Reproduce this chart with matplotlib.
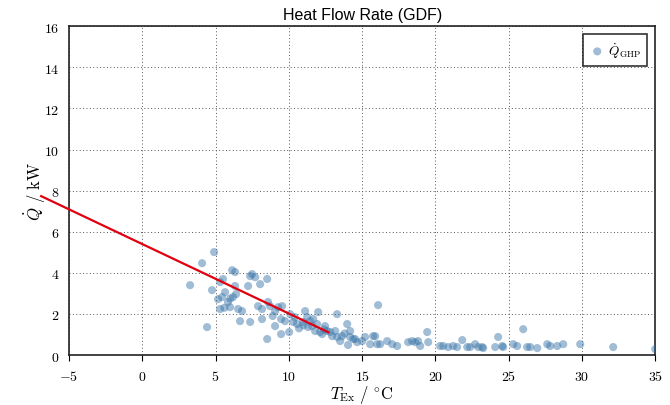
import matplotlib
matplotlib.use('Agg')
import matplotlib.pyplot as plt
import numpy as np

plt.rcParams['mathtext.fontset'] = 'cm'

# measured points: exhaust temperature / heat flow
t_ex = [3.26, 4.08, 4.90, 4.42, 4.76, 5.31, 5.51, 6.13, 6.33, 5.17, 5.44, 5.65, 5.85, 5.99,
        5.31, 6.33, 6.40, 6.19, 6.54, 6.81, 6.67, 7.36, 7.49, 7.70, 7.22, 8.04, 8.52, 7.36,
        7.90, 8.17, 8.17, 8.52, 8.58, 8.72, 9.06, 9.06, 9.27, 9.47, 9.54, 9.74, 9.47, 10.02,
        10.09, 10.29, 10.56, 10.97, 11.11, 11.25, 11.31, 11.45, 11.59, 11.66, 11.79, 11.93,
        12.00, 12.13, 12.27, 12.47, 12.61, 12.82, 12.95, 13.16, 13.29, 13.29, 13.50, 13.63,
        13.98, 14.18, 14.18, 14.04, 14.39, 14.66, 15.00, 15.20, 15.55, 15.89, 16.09, 16.02,
        16.23, 16.71, 17.05, 17.39, 18.14, 18.41, 18.62, 18.82, 18.96, 19.44, 19.51, 20.32,
        20.53, 20.87, 21.21, 21.48, 21.83, 22.17, 22.37, 22.71, 22.92, 23.19, 23.26, 24.08,
        24.28, 24.56, 24.62, 25.31, 25.58, 25.99, 26.26, 26.47, 26.95, 27.63, 27.83, 28.31,
        28.72, 29.88, 32.13, 35.0, 14.52, 15.75, 10.7, 12.4, 13.8, 6.0, 5.6, 8.9, 10.4, 11.0]
q_ghp = [3.40, 4.47, 5.01, 1.36, 3.16, 3.55, 3.70, 4.13, 4.04, 2.72, 2.82, 3.06, 2.58, 2.33,
         2.24, 3.36, 2.97, 2.82, 2.24, 2.14, 1.65, 3.84, 3.94, 3.79, 3.36, 3.45, 3.70, 1.61,
         2.38, 2.24, 1.75, 0.78, 2.58, 2.38, 2.14, 1.41, 2.33, 1.75, 2.38, 1.65, 1.02, 1.12,
         1.99, 1.61, 1.51, 1.61, 2.14, 1.85, 1.36, 1.65, 1.41, 1.75, 1.17, 1.51,
         2.09, 1.12, 1.02, 1.41, 1.17, 1.12, 0.92, 1.17, 1.99, 0.88, 0.68, 0.92,
         1.51, 1.17, 0.88, 0.49, 0.78, 0.63, 0.68, 0.88, 0.53, 0.92, 2.43, 0.53,
         0.53, 0.68, 0.53, 0.44, 0.63, 0.68, 0.63, 0.68, 0.44, 1.12, 0.63, 0.44,
         0.44, 0.39, 0.44, 0.39, 0.73, 0.39, 0.39, 0.53, 0.39, 0.39, 0.34, 0.39,
         0.88, 0.44, 0.39, 0.53, 0.44, 1.26, 0.39, 0.39, 0.34, 0.53, 0.44, 0.44,
         0.53, 0.53, 0.39, 0.29, 0.78, 0.92, 1.30, 1.25, 1.05, 2.75, 2.30, 1.90, 1.85, 1.45]

# linear fit drawn in red
fit_slope = -0.338
fit_icept = 5.40
fit_x = [-6.9, 12.7]

x_ticks = [-5, 0, 5, 10, 15, 20, 25, 30, 35]
y_ticks = [0, 2, 4, 6, 8, 10, 12, 14, 16]

fig = plt.figure(figsize=(6.7, 4.06), dpi=100)
ax = fig.add_axes([0.103, 0.123, 0.875, 0.81])

ax.scatter(t_ex, q_ghp, s=34, color='#3a75a8', alpha=0.48, edgecolors='none',
           label=r'$\dot{Q}_{\mathrm{GHP}}$', zorder=3)
fx = np.array(fit_x)
ax.plot(fx, fit_slope*fx + fit_icept, color='#e0000f', lw=1.6, clip_on=False, zorder=4)

ax.set_xlim(-5, 35)
ax.set_ylim(0, 16)
ax.set_xticks(x_ticks)
ax.set_yticks(y_ticks)
ax.set_xticklabels(['$%d$' % v for v in x_ticks], fontsize=10)
ax.set_yticklabels(['$%d$' % v for v in y_ticks], fontsize=10)
ax.tick_params(axis='x', direction='out', length=4, width=0.8, pad=6)
ax.tick_params(axis='y', length=0, pad=7)
ax.grid(True, color='#555555', linestyle=(0, (1, 2.5)), linewidth=0.7)
ax.set_axisbelow(True)
for sp in ax.spines.values():
    sp.set_linewidth(1.2)
    sp.set_color('#222222')

ax.set_xlabel(r'$T_{\mathrm{Ex}}\ /\ ^{\circ}\mathrm{C}$', fontsize=12, labelpad=0)
ax.set_ylabel(r'$\dot{Q}\ /\ \mathrm{kW}$', fontsize=12, labelpad=-3)
ax.set_title('Heat Flow Rate (GDF)', fontsize=11.5, family='Liberation Sans', pad=5)

leg = ax.legend(loc='upper right', fancybox=False, frameon=True, fontsize=9.5,
                handletextpad=0.2, borderpad=0.5, handlelength=1.2, scatterpoints=1,
                borderaxespad=0.6)
leg.get_frame().set_edgecolor('black')
leg.get_frame().set_linewidth(1.2)

fig.savefig('out.png', dpi=100)
